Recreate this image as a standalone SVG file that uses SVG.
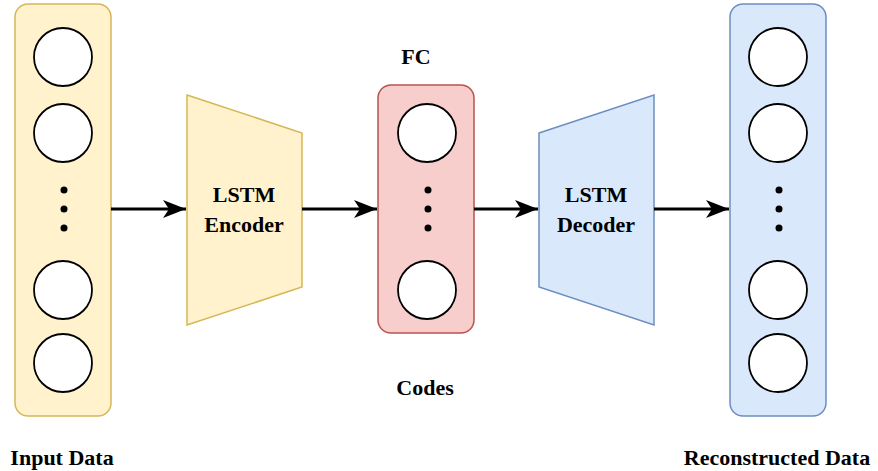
<svg xmlns="http://www.w3.org/2000/svg" width="878" height="471" viewBox="0 0 878 471">
<style>
.y{fill:#fff2cc;stroke:#d6b656;stroke-width:1.5}
.r{fill:#f8cecc;stroke:#b85450;stroke-width:1.5}
.b{fill:#dae8fc;stroke:#6c8ebf;stroke-width:1.5}
.c{fill:#fff;stroke:#000;stroke-width:1.8}
.d{fill:#000}
.t{font-family:'Liberation Serif',serif;font-weight:700;font-size:22px;text-anchor:middle;fill:#000}
.e{stroke:#000;stroke-width:3;fill:none}
</style>
<defs>
<marker id="arr" viewBox="0 0 24 20" refX="23" refY="10" markerWidth="24" markerHeight="20" markerUnits="userSpaceOnUse" orient="auto">
<path d="M0,1 L23,10 L0,19 L6,10 Z" fill="#000"/>
</marker>
</defs>
<g id="input-data">
<rect class="y" x="15" y="4" width="96" height="412" rx="13"/>
<circle class="c" cx="63" cy="57" r="29"/>
<circle class="c" cx="63" cy="133" r="29"/>
<circle class="d" cx="64" cy="190" r="3.5"/>
<circle class="d" cx="64" cy="209" r="3.5"/>
<circle class="d" cx="64" cy="228" r="3.5"/>
<circle class="c" cx="63" cy="290" r="29"/>
<circle class="c" cx="63" cy="363" r="29"/>
<text class="t" x="62" y="465" font-family="Liberation Serif, serif">Input Data</text>
</g>
<g id="lstm-encoder">
<polygon class="y" points="187,95 302,133 302,287 187,325"/>
<text class="t" x="244" y="202" font-family="Liberation Serif, serif">LSTM</text>
<text class="t" x="244" y="232" font-family="Liberation Serif, serif">Encoder</text>
</g>
<g id="fc-codes">
<text class="t" x="416" y="64" font-family="Liberation Serif, serif">FC</text>
<rect class="r" x="378" y="85" width="96" height="248" rx="13"/>
<circle class="c" cx="427" cy="133" r="29"/>
<circle class="d" cx="428" cy="190" r="3.5"/>
<circle class="d" cx="428" cy="209" r="3.5"/>
<circle class="d" cx="428" cy="228" r="3.5"/>
<circle class="c" cx="427" cy="290" r="29"/>
<text class="t" x="425" y="395" font-family="Liberation Serif, serif">Codes</text>
</g>
<g id="lstm-decoder">
<polygon class="b" points="539,133 654,95 654,325 539,287"/>
<text class="t" x="596" y="202" font-family="Liberation Serif, serif">LSTM</text>
<text class="t" x="596" y="232" font-family="Liberation Serif, serif">Decoder</text>
</g>
<g id="reconstructed-data">
<rect class="b" x="730" y="4" width="96" height="412" rx="13"/>
<circle class="c" cx="778" cy="57" r="29"/>
<circle class="c" cx="778" cy="133" r="29"/>
<circle class="d" cx="779" cy="190" r="3.5"/>
<circle class="d" cx="779" cy="209" r="3.5"/>
<circle class="d" cx="779" cy="228" r="3.5"/>
<circle class="c" cx="778" cy="290" r="29"/>
<circle class="c" cx="778" cy="363" r="29"/>
<text class="t" x="777" y="465" font-family="Liberation Serif, serif">Reconstructed Data</text>
</g>
<g id="connectors">
<path class="e" d="M111,209 H186" marker-end="url(#arr)"/>
<path class="e" d="M302,209 H377" marker-end="url(#arr)"/>
<path class="e" d="M474,209 H538" marker-end="url(#arr)"/>
<path class="e" d="M654,209 H729" marker-end="url(#arr)"/>
</g>
</svg>
